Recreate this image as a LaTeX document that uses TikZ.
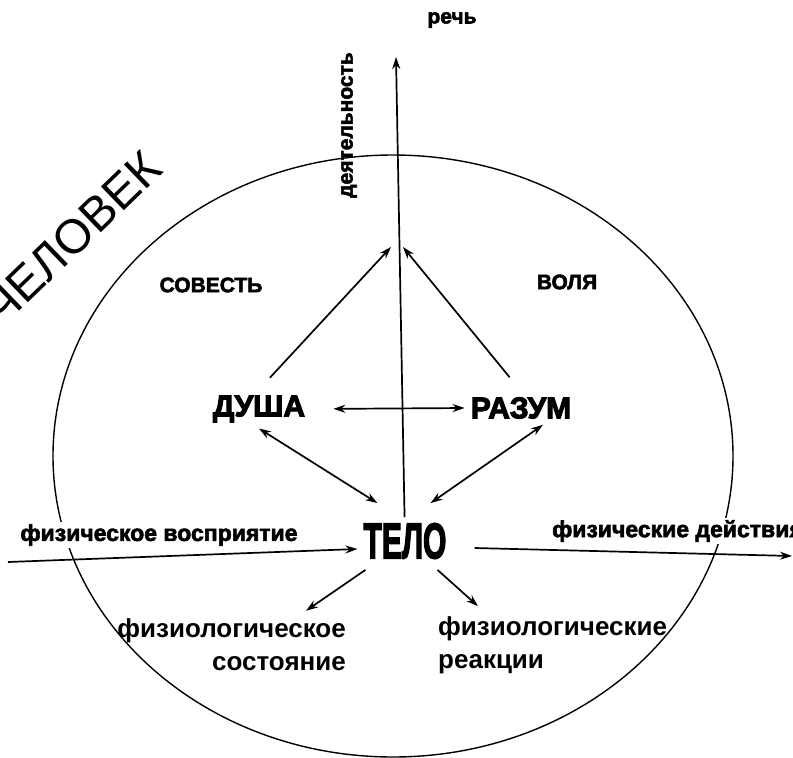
\documentclass[tikz,border=0pt]{standalone}
\usepackage{fontspec}
\setmainfont{Liberation Sans}
\newfontfamily\heavyfont[FakeBold=2.5]{Liberation Sans Bold}
\newfontfamily\partfont[FakeBold=3.5]{Liberation Sans Bold}
\usepackage{tikz}
\usetikzlibrary{arrows.meta, positioning, calc}

\begin{document}
\begin{tikzpicture}[
    x=1pt, y=1pt,
    >={Stealth[length=12pt, width=8pt]},
    arrow/.style={->, line width=1.7pt},
    twoway/.style={<->, line width=1.7pt},
    part/.style={font=\partfont\fontsize{30}{36}\selectfont, inner sep=6pt},
    quality/.style={font=\heavyfont\fontsize{21}{25}\selectfont, inner sep=0pt},
    flow/.style={font=\heavyfont\fontsize{23}{28}\selectfont, inner sep=2pt, fill=white},
    result/.style={font=\bfseries\fontsize{26}{33}\selectfont, inner sep=0pt},
]
    \useasboundingbox (0,0) rectangle (793,-758);

    % Human
    \draw[line width=1.4pt] (393,-456) ellipse [x radius=340, y radius=301];
    \node[font=\fontsize{48}{56}\selectfont, rotate=44] (human) at (72,-238) {ЧЕЛОВЕК};

    % Soul, mind, body
    \node[part] (telo) at (405,-541) {\scalebox{0.6}[1]{\fontsize{50}{60}\selectfont ТЕЛО}};
    \node[part] (dusha) at (259,-409) {ДУША};
    \node[part] (razum) at (521,-408) {РАЗУМ};

    % Qualities
    \node[quality] (conscience) at (211,-285) {СОВЕСТЬ};
    \node[quality] (will) at (567,-282) {ВОЛЯ};
    \node[quality] (speech) at (452,-20) {речь};
    \node[quality, rotate=90] (activity) at (349,-125) {деятельность};

    % Perception and action
    \node[flow] (perception) at (159,-535) {физическое восприятие};
    \node[flow, anchor=west] (action) at (550,-531) {физические действия};
    \node[result, align=right, anchor=east] (state) at (346,-645) {физиологическое\\состояние};
    \node[result, align=left, anchor=west] (reaction) at (438,-645) {физиологические\\реакции};

    \coordinate (apexL) at (391,-247);
    \coordinate (apexR) at (403,-247);
    \coordinate (top) at (396,-57);
    \coordinate (inL) at (8,-562);
    \coordinate (outR) at (792,-556);

    \draw[arrow] (telo) -- (top);
    \draw[arrow, shorten <=16pt] (dusha.north) -- (apexL);
    \draw[arrow, shorten <=18pt] (razum.north) -- (apexR);
    \draw[twoway, shorten <=22pt] (dusha.east) -- (razum.west);
    \draw[twoway] (dusha.south) -- ([shift={(20,14)}]telo.north west);
    \draw[twoway] ([xshift=22pt]razum.south) -- ([shift={(-22,14)}]telo.north east);
    \draw[arrow] (inL) -- ([yshift=-8pt]telo.west);
    \draw[arrow] ([shift={(22,-7)}]telo.east) -- (outR);
    \draw[arrow] ([shift={(8,-5)}]telo.south west) -- ([shift={(-40,8)}]state.north east);
    \draw[arrow] ([shift={(-15,-5)}]telo.south east) -- ([shift={(40,10)}]reaction.north west);
\end{tikzpicture}
\end{document}
